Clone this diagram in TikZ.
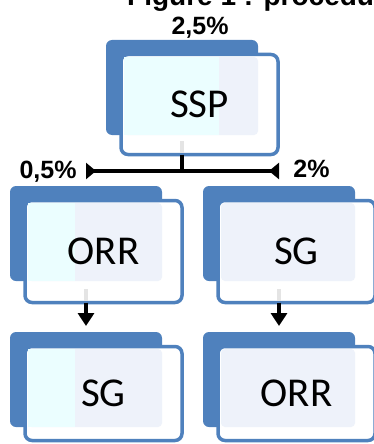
\documentclass[tikz,border=0pt]{standalone}
\usepackage{fontspec}
\setmainfont{Liberation Sans}
\newfontfamily\boxfont{Carlito}
\usetikzlibrary{arrows.meta}
\definecolor{orgblue}{HTML}{4F81BD}
\definecolor{orgpale}{HTML}{EEF2FA}
\definecolor{orgcyan}{HTML}{EBFEFF}
\definecolor{orgghost}{HTML}{E4E4E4}
\tikzset{
  backbox/.style={fill=orgblue, rounded corners=6pt, minimum width=152pt, minimum height=95pt,
    anchor=north west, inner sep=0pt, outer sep=0pt},
  frontbox/.style={draw=orgblue, line width=3.5pt, fill=white, rounded corners=7pt,
    minimum width=157pt, anchor=north west, inner sep=0pt, outer sep=0pt},
  boxtext/.style={font=\boxfont\fontsize{41}{41}\selectfont, inner sep=0pt},
  pct/.style={font=\bfseries\fontsize{25}{25}\selectfont, inner sep=0pt, anchor=base},
  link/.style={line width=4pt},
  ghost/.style={draw=orgghost, line width=4pt},
}
\begin{document}
\begin{tikzpicture}[x=1pt,y=-1pt]
\useasboundingbox (0,0) rectangle (374,444);
\clip (0,0) rectangle (374,444);
\node[pct, anchor=base west, font=\bfseries\fontsize{28}{28}\selectfont] (title) at (127,5.5)
  {Figure 1 : procedure};
% boxes
\foreach \n/\bx/\by/\h/\c/\t in {ssp/106/40/100/113/SSP, orrmid/10/186/102/65/ORR,
    sgmid/203/186/102/18/SG, sgbot/10/332/94/65/SG, orrbot/203/332/94/18/ORR}{
  \node[backbox] (\n-back) at (\bx,\by) {};
  \node[frontbox, minimum height=\h pt] (\n) at (\bx+15,\by+14.5) {};
  \fill[orgpale, rounded corners=4pt] (\bx+18,\by+17) rectangle (\bx+152,\by+95);
  \fill[orgcyan] (\bx+18,\by+17) rectangle (\bx+\c,\by+95);
  \node[boxtext] (\n-txt) at (\n.center) {\t};
  \coordinate (\n-bot) at ([xshift=61pt]\n.south west);
}
\node[pct] (pct-ssp) at (200,35) {2,5\%};
\node[pct] (pct-orr) at (48,178) {0,5\%};
\node[pct] (pct-sg) at (311.5,177) {2\%};
% connectors
\draw[ghost] ([yshift=2pt]ssp-bot) -- ++(0,-12);
\draw[ghost] ([yshift=2pt]orrmid-bot) -- ++(0,-12);
\draw[ghost] ([yshift=2pt]sgmid-bot) -- ++(0,-12);
\coordinate (fork) at ([yshift=-16.5pt]ssp-bot);
\draw[link] (ssp-bot) -- (fork);
\draw[link, -{Triangle[reversed,width=16pt,length=10pt]}] (fork) -- (fork -| orrmid-bot);
\draw[link, -{Triangle[reversed,width=16pt,length=10pt]}] (fork) -- (fork -| sgmid-bot);
\draw[link, -{Triangle[width=16pt,length=13pt]}, shorten >=6pt]
  (orrmid-bot) -- (orrmid-bot |- sgbot-back.north);
\draw[link, -{Triangle[width=16pt,length=13pt]}, shorten >=6pt]
  (sgmid-bot) -- (sgmid-bot |- orrbot-back.north);
\end{tikzpicture}
\end{document}
